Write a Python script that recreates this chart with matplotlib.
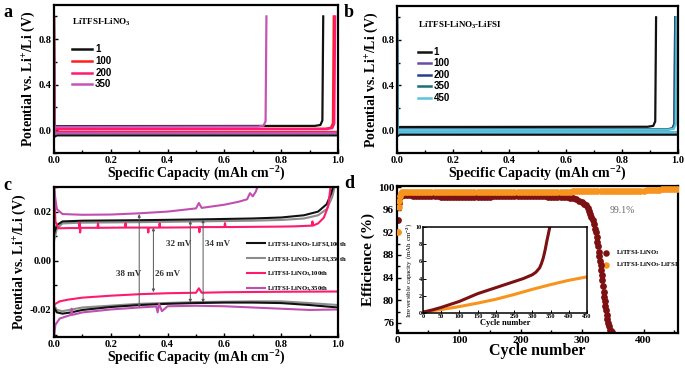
import numpy as np
import matplotlib
matplotlib.use('Agg')
import matplotlib.pyplot as plt
from matplotlib.ticker import MultipleLocator, FormatStrFormatter

plt.rcParams['font.family'] = 'Liberation Serif'
plt.rcParams['font.weight'] = 'bold'
plt.rcParams['axes.labelweight'] = 'bold'
plt.rcParams['mathtext.fontset'] = 'custom'
plt.rcParams['mathtext.rm'] = 'Liberation Serif:bold'
plt.rcParams['mathtext.bf'] = 'Liberation Serif:bold'
plt.rcParams['mathtext.it'] = 'Liberation Serif:bold'
plt.rcParams['mathtext.default'] = 'rm'
plt.rcParams['axes.linewidth'] = 1.6

# ---------------- data ----------------
# panel a : LiTFSI-LiNO3, charge end capacity and plateau levels
a_labels = ['1', '100', '200', '350']
a_colors = ['#111111', '#ff1f1f', '#ff1a75', '#c455b5']
a_end = [0.948, 0.985, 0.99, 0.748]
a_up = [0.036, 0.012, 0.008, 0.030]
a_down = [-0.045, -0.015, -0.020, -0.025]

# panel b : LiTFSI-LiNO3-LiFSI
b_labels = ['1', '100', '200', '350', '450']
b_colors = ['#111111', '#6a4ea3', '#283f8e', '#1b6f73', '#5cc3da']
b_end = [0.922, 0.99, 0.99, 0.992, 0.995]
b_up = [0.030, 0.008, 0.006, 0.006, 0.004]
b_down = [-0.038, -0.018, -0.018, -0.018, -0.016]

# panel c : voltage profiles
c_blk_up_x = [0, 0.01, 0.03, 0.1, 0.3, 0.5, 0.7, 0.8, 0.88, 0.93, 0.96, 0.975, 0.985]
c_blk_up_y = [0.011, 0.0145, 0.016, 0.0163, 0.0165, 0.0168, 0.0172, 0.0176, 0.0185, 0.020, 0.023, 0.027, 0.031]
c_blk_dn_x = [0, 0.01, 0.03, 0.06, 0.1, 0.2, 0.3, 0.4, 0.5, 0.6, 0.7, 0.8, 0.9, 1.0]
c_blk_dn_y = [-0.019, -0.021, -0.0215, -0.021, -0.020, -0.0188, -0.018, -0.0175, -0.0172, -0.017, -0.017, -0.0172, -0.018, -0.019]
c_gry_up_x = [0, 0.01, 0.03, 0.1, 0.3, 0.5, 0.7, 0.8, 0.88, 0.93, 0.96, 0.98, 0.99]
c_gry_up_y = [0.008, 0.013, 0.0152, 0.0155, 0.0157, 0.016, 0.0163, 0.0166, 0.0172, 0.0185, 0.021, 0.026, 0.031]
c_gry_dn_x = [0, 0.01, 0.03, 0.1, 0.3, 0.5, 0.7, 0.8, 0.9, 1.0]
c_gry_dn_y = [-0.018, -0.020, -0.0205, -0.019, -0.0175, -0.0168, -0.0165, -0.0165, -0.0172, -0.018]
c_pnk_up_x = [0, 0.005, 0.015, 0.05, 0.088, 0.09, 0.092, 0.094, 0.153, 0.155, 0.157, 0.25, 0.252, 0.254,
              0.33, 0.332, 0.334, 0.37, 0.372, 0.374, 0.5, 0.51, 0.512, 0.514, 0.6, 0.602, 0.604, 0.8,
              0.85, 0.908, 0.91, 0.912, 0.93, 0.95, 0.965, 0.975]
c_pnk_up_y = [0.031, 0.016, 0.0132, 0.0133, 0.0133, 0.0155, 0.0115, 0.0134, 0.0134, 0.0152, 0.0134, 0.0135, 0.0153, 0.0135,
              0.0135, 0.0115, 0.0135, 0.0135, 0.0152, 0.0135, 0.0136, 0.0136, 0.0116, 0.0137, 0.0137, 0.0153, 0.0137, 0.0139,
              0.014, 0.0143, 0.016, 0.0143, 0.0152, 0.0175, 0.022, 0.031]
c_pnk_dn_x = [0, 0.005, 0.02, 0.05, 0.1, 0.2, 0.3, 0.4, 0.5, 0.51, 0.52, 0.6, 0.8, 1.0]
c_pnk_dn_y = [-0.018, -0.0175, -0.0165, -0.0158, -0.015, -0.0142, -0.0136, -0.0132, -0.013, -0.0112, -0.013, -0.0128, -0.0126, -0.0125]
c_pur_up_x = [0, 0.004, 0.01, 0.03, 0.1, 0.2, 0.3, 0.4, 0.5, 0.51, 0.52, 0.6, 0.65, 0.68, 0.69, 0.70, 0.71, 0.72]
c_pur_up_y = [0.031, 0.026, 0.021, 0.019, 0.0187, 0.0188, 0.0193, 0.020, 0.0213, 0.0235, 0.0215, 0.0228, 0.024, 0.025, 0.0275, 0.0262, 0.028, 0.031]
c_pur_dn_x = [0, 0.005, 0.02, 0.06, 0.062, 0.065, 0.1, 0.2, 0.3, 0.36, 0.365, 0.37, 0.38, 0.4, 0.5, 0.6, 0.7, 0.8, 0.9, 1.0]
c_pur_dn_y = [-0.031, -0.026, -0.0235, -0.022, -0.0195, -0.022, -0.021, -0.0198, -0.019, -0.0186, -0.021, -0.0175, -0.0205, -0.0185, -0.0183, -0.0185, -0.019, -0.0195, -0.020, -0.0198]
c_gap_x = [0.30, 0.35, 0.48, 0.525]
c_gap_top = [0.0190, 0.0135, 0.0163, 0.0168]
c_gap_bot = [-0.0190, -0.0128, -0.0170, -0.0170]
c_gap_txt = ['38 mV', '26 mV', '32 mV', '34 mV']

# panel d : coulombic efficiency
d_red_cyc = [1, 2, 3, 5, 8] + list(range(10, 291, 5)) + [
    295, 300, 303, 306, 309, 311, 313, 315, 317, 319, 321, 322, 324, 325, 326, 327, 328, 329, 330,
    331, 332, 333, 334, 335, 336, 337, 338, 339, 340, 341, 342, 343, 345, 347, 349]
d_red_eff = [94.2, 97.2, 98.0, 98.5, 98.6,
             98.6, 98.6, 98.6, 98.5, 98.5, 98.5, 98.5, 98.4, 98.4, 98.4, 98.4, 98.4, 98.3, 98.3, 98.3,
             98.3, 98.3, 98.3, 98.3, 98.3, 98.3, 98.3, 98.3, 98.3, 98.3, 98.3, 98.3, 98.3, 98.3, 98.4,
             98.4, 98.4, 98.4, 98.4, 98.4, 98.4, 98.4, 98.4, 98.4, 98.4, 98.4, 98.4, 98.4, 98.4, 98.4,
             98.4, 98.4, 98.3, 98.3,
             98.3, 98.3, 98.3, 98.2, 98.2, 98.1, 98.0, 97.9,
             97.6, 97.4, 97.1, 96.8, 96.3, 95.8, 95.3, 94.8, 94.2, 93.5, 92.6, 92.0, 91.2, 90.3, 89.5,
             88.5, 87.8, 87.0, 86.2, 85.3, 84.4, 83.5, 82.5, 81.5, 80.6, 79.8, 79.0, 78.2, 77.4, 76.7,
             76.0, 75.4, 74.8, 74.5, 74.3]
d_org_cyc = [1, 2, 3, 4, 5, 7] + list(range(10, 456, 5))
d_org_eff = [92.0, 96.5, 97.6, 98.5, 99.0, 99.1,
             99.1, 99.2, 99.2, 99.2, 99.2, 99.2, 99.2, 99.2, 99.2, 99.2, 99.2, 99.2, 99.2, 99.2, 99.2,
             99.2, 99.2, 99.2, 99.2, 99.2, 99.2, 99.2, 99.2, 99.2, 99.2, 99.2, 99.2, 99.2, 99.2, 99.2,
             99.2, 99.2, 99.2, 99.2, 99.2, 99.2, 99.2, 99.2, 99.2, 99.2, 99.2, 99.2, 99.2, 99.2, 99.2,
             99.2, 99.2, 99.2, 99.2, 99.2, 99.2, 99.2, 99.2, 99.2, 99.2, 99.3, 99.3, 99.3, 99.3, 99.3,
             99.3, 99.3, 99.3, 99.3, 99.3, 99.3, 99.3, 99.3, 99.3, 99.3, 99.3, 99.3, 99.4, 99.4, 99.4,
             99.4, 99.4, 99.4, 99.4, 99.5, 99.5, 99.5, 99.5, 99.5, 99.6, 99.6, 99.6, 99.6, 99.6, 99.6]
# inset : irreversible capacity
in_red_cyc = [0, 25, 50, 75, 100, 125, 150, 175, 200, 225, 250, 275, 300, 310, 320, 325, 330, 335, 340, 345, 348, 350]
in_red_cap = [0.1, 0.35, 0.65, 1.0, 1.35, 1.8, 2.25, 2.6, 2.95, 3.3, 3.65, 4.0, 4.45, 4.75, 5.25, 5.75, 6.4, 7.3, 8.4, 9.4, 10.0, 10.5]
in_org_cyc = [0, 50, 100, 150, 200, 250, 300, 350, 400, 450]
in_org_cap = [0.1, 0.4, 0.75, 1.15, 1.6, 2.15, 2.75, 3.3, 3.8, 4.2]

W, H = 685, 368
fig = plt.figure(figsize=(W / 100, H / 100), dpi=100)


def box(l, t, r, b):
    return [l / W, 1 - b / H, (r - l) / W, (b - t) / H]


def style(ax, size=7.5):
    ax.tick_params(direction='in', which='both', labelsize=size, width=1.0, length=3, pad=2)
    ax.tick_params(which='minor', length=2)


def voltage_panel(ax, labels, colors, ends, ups, downs, title, title_y, leg_x, leg_y, leg_len, leg_dy):
    for lab, col, e, u, d in zip(labels, colors, ends, ups, downs):
        ax.plot([0, 0.002, 0.01, 1.0], [1.0, d - 0.012, d, d], color=col, lw=1.6, solid_capstyle='butt')
        ax.plot([0, 0.01, e - 0.03, e - 0.01, e - 0.003, e], [u - 0.01, u, u + 0.002, u + 0.01, u + 0.05, 1.0],
                color=col, lw=1.6)
    ax.set_xlim(0, 1.0)
    ax.set_ylim(-0.2, 1.1)
    ax.xaxis.set_major_locator(MultipleLocator(0.2))
    ax.xaxis.set_minor_locator(MultipleLocator(0.1))
    ax.yaxis.set_major_locator(MultipleLocator(0.4))
    ax.yaxis.set_minor_locator(MultipleLocator(0.2))
    ax.xaxis.set_major_formatter(FormatStrFormatter('%.1f'))
    ax.yaxis.set_major_formatter(FormatStrFormatter('%.1f'))
    ax.set_xlabel('Specific Capacity (mAh cm$^{-2}$)', fontsize=10, labelpad=0)
    ax.set_ylabel('Potential vs. Li$^{+}$/Li (V)', fontsize=10, labelpad=1)
    ax.text(leg_x, title_y, title, transform=ax.transAxes, fontsize=6.5, va='center')
    for i, (lab, col) in enumerate(zip(labels, colors)):
        yy = leg_y - i * leg_dy
        ax.plot([leg_x, leg_x + leg_len], [yy, yy], transform=ax.transAxes, color=col, lw=1.8)
        ax.text(leg_x + leg_len + 0.01, yy, lab, transform=ax.transAxes, fontsize=7,
                family='Liberation Sans', fontweight='bold', va='center')
    style(ax)


ax_a = fig.add_axes(box(54, 5, 338, 153))
voltage_panel(ax_a, a_labels, a_colors, a_end, a_up, a_down, 'LiTFSI-LiNO$_3$', 0.88, 0.065, 0.70, 0.07, 0.079)
ax_b = fig.add_axes(box(397, 6, 678, 153))
voltage_panel(ax_b, b_labels, b_colors, b_end, b_up, b_down, 'LiTFSI-LiNO$_3$-LiFSI', 0.87, 0.075, 0.69, 0.045, 0.079)

# panel c
ax_c = fig.add_axes(box(54, 187, 338, 337))
c_series = [
    (c_gry_up_x, c_gry_up_y, c_gry_dn_x, c_gry_dn_y, '#8c8c8c', 'LiTFSI-LiNO$_3$-LiFSI,350th'),
    (c_blk_up_x, c_blk_up_y, c_blk_dn_x, c_blk_dn_y, '#111111', 'LiTFSI-LiNO$_3$-LiFSI,100th'),
    (c_pnk_up_x, c_pnk_up_y, c_pnk_dn_x, c_pnk_dn_y, '#ff1a6e', 'LiTFSI-LiNO$_3$,100th'),
    (c_pur_up_x, c_pur_up_y, c_pur_dn_x, c_pur_dn_y, '#c04fb0', 'LiTFSI-LiNO$_3$,350th'),
]
handles = {}
for ux, uy, dx, dy, col, lab in c_series:
    h, = ax_c.plot(ux, uy, color=col, lw=1.5)
    ax_c.plot(dx, dy, color=col, lw=1.5)
    handles[lab] = h
for gx, gt, gb in zip(c_gap_x, c_gap_top, c_gap_bot):
    ax_c.annotate('', xy=(gx, gt), xytext=(gx, gb),
                  arrowprops=dict(arrowstyle='<|-|>', color='#555555', lw=0.7, mutation_scale=4,
                                  shrinkA=0, shrinkB=0))
for tx, ty, txt in zip([0.262, 0.40, 0.44, 0.575], [-0.0053, -0.0053, 0.0069, 0.0069], c_gap_txt):
    ax_c.text(tx, ty, txt, fontsize=6.5, ha='center', va='center', color='#333333')
order = ['LiTFSI-LiNO$_3$-LiFSI,100th', 'LiTFSI-LiNO$_3$-LiFSI,350th', 'LiTFSI-LiNO$_3$,100th', 'LiTFSI-LiNO$_3$,350th']
ax_c.legend([handles[k] for k in order], order, loc='center left', bbox_to_anchor=(0.66, 0.47),
            frameon=False, fontsize=4.8, handlelength=2.6, handletextpad=0.4, labelspacing=0.9)
ax_c.set_xlim(0, 1.0)
ax_c.set_ylim(-0.031, 0.030)
ax_c.xaxis.set_major_locator(MultipleLocator(0.2))
ax_c.xaxis.set_minor_locator(MultipleLocator(0.1))
ax_c.yaxis.set_major_locator(MultipleLocator(0.02))
ax_c.yaxis.set_minor_locator(MultipleLocator(0.01))
ax_c.xaxis.set_major_formatter(FormatStrFormatter('%.1f'))
ax_c.yaxis.set_major_formatter(FormatStrFormatter('%.2f'))
ax_c.set_xlabel('Specific Capacity (mAh cm$^{-2}$)', fontsize=10, labelpad=0)
ax_c.set_ylabel('Potential vs. Li$^{+}$/Li (V)', fontsize=10, labelpad=1)
style(ax_c)

# panel d
ax_d = fig.add_axes(box(397, 186, 678, 333))
ax_d.scatter(d_org_cyc, d_org_eff, s=24, color='#f7941d', zorder=3, lw=0)
ax_d.scatter(d_red_cyc, d_red_eff, s=24, color='#7b1113', zorder=2, lw=0)
ax_d.text(366, 95.9, '99.1%', fontsize=7, color='#666666', fontweight='normal', ha='center', va='center')
ax_d.scatter([0.745], [0.545], s=22, color='#7b1113', transform=ax_d.transAxes, lw=0)
ax_d.scatter([0.745], [0.465], s=22, color='#f7941d', transform=ax_d.transAxes, lw=0)
ax_d.text(0.78, 0.545, 'LiTFSI-LiNO$_3$', transform=ax_d.transAxes, fontsize=4.8, va='center')
ax_d.text(0.78, 0.465, 'LiTFSI-LiNO$_3$-LiFSI', transform=ax_d.transAxes, fontsize=4.8, va='center')
ax_d.set_xlim(-1, 456)
ax_d.set_ylim(74.2, 100.2)
ax_d.xaxis.set_major_locator(MultipleLocator(100))
ax_d.xaxis.set_minor_locator(MultipleLocator(50))
ax_d.yaxis.set_major_locator(MultipleLocator(4))
ax_d.yaxis.set_minor_locator(MultipleLocator(2))
ax_d.set_xlabel('Cycle number', fontsize=11.5, labelpad=-1)
ax_d.set_ylabel('Efficience (%)', fontsize=11, labelpad=2)
style(ax_d, 8)

ax_in = fig.add_axes(box(423, 227, 587, 313))
ax_in.plot(in_org_cyc, in_org_cap, color='#f7941d', lw=2.2)
ax_in.plot(in_red_cyc, in_red_cap, color='#7b1113', lw=2.2)
ax_in.set_xlim(0, 450)
ax_in.set_ylim(0, 10)
ax_in.xaxis.set_major_locator(MultipleLocator(50))
ax_in.yaxis.set_major_locator(MultipleLocator(2))
ax_in.tick_params(direction='in', labelsize=4.5, length=2, width=0.7, pad=1)
ax_in.set_xlabel('Cycle number', fontsize=6, labelpad=0)
ax_in.set_ylabel('Irreversible capacity (mAh cm$^{-2}$)', fontsize=5, labelpad=1, fontweight='normal')
for sp in ax_in.spines.values():
    sp.set_linewidth(1.1)

for letter, (lx, ly) in zip('abcd', [(3, 17), (344, 17), (3, 190), (344, 188)]):
    fig.text(lx / W, 1 - ly / H, letter, fontsize=13, fontweight='bold')

fig.savefig('out.png', dpi=100)
